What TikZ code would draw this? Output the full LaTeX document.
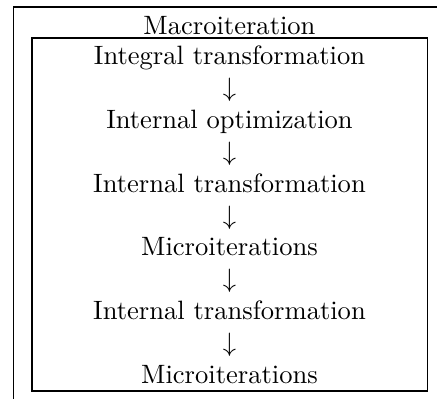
\documentclass[tikz,border=0pt]{standalone}
\begin{document}
\begin{tikzpicture}[x=0.37665pt,y=-0.37665pt,
  lbl/.style={anchor=base, inner sep=0pt, font=\fontsize{10}{12}\selectfont},
  frame/.style={draw=black, line width=0.4pt}]
\useasboundingbox (0,0) rectangle (437,399);
\clip (0,0) rectangle (437,399);
% outer frame (runs off the picture)
\draw[frame] (13.5,405) -- (13.5,7) -- (445,7);
% inner box
\draw[frame] (32,38) rectangle (427.3,391);
\node[lbl] (title) at (229.5,35) {Macroiteration};
\node[lbl] (r0) at (229.5,64.8) {Integral transformation};
\node[lbl] (a1) at (229.5,96.7) {$\downarrow$};
\node[lbl] (r2) at (229.5,128.5) {Internal optimization};
\node[lbl] (a3) at (229.5,160.4) {$\downarrow$};
\node[lbl] (r4) at (229.5,192.2) {Internal transformation};
\node[lbl] (a5) at (229.5,224.1) {$\downarrow$};
\node[lbl] (r6) at (229.5,255.9) {Microiterations};
\node[lbl] (a7) at (229.5,287.8) {$\downarrow$};
\node[lbl] (r8) at (229.5,319.6) {Internal transformation};
\node[lbl] (a9) at (229.5,351.5) {$\downarrow$};
\node[lbl] (r10) at (229.5,383.3) {Microiterations};
\end{tikzpicture}
\end{document}
